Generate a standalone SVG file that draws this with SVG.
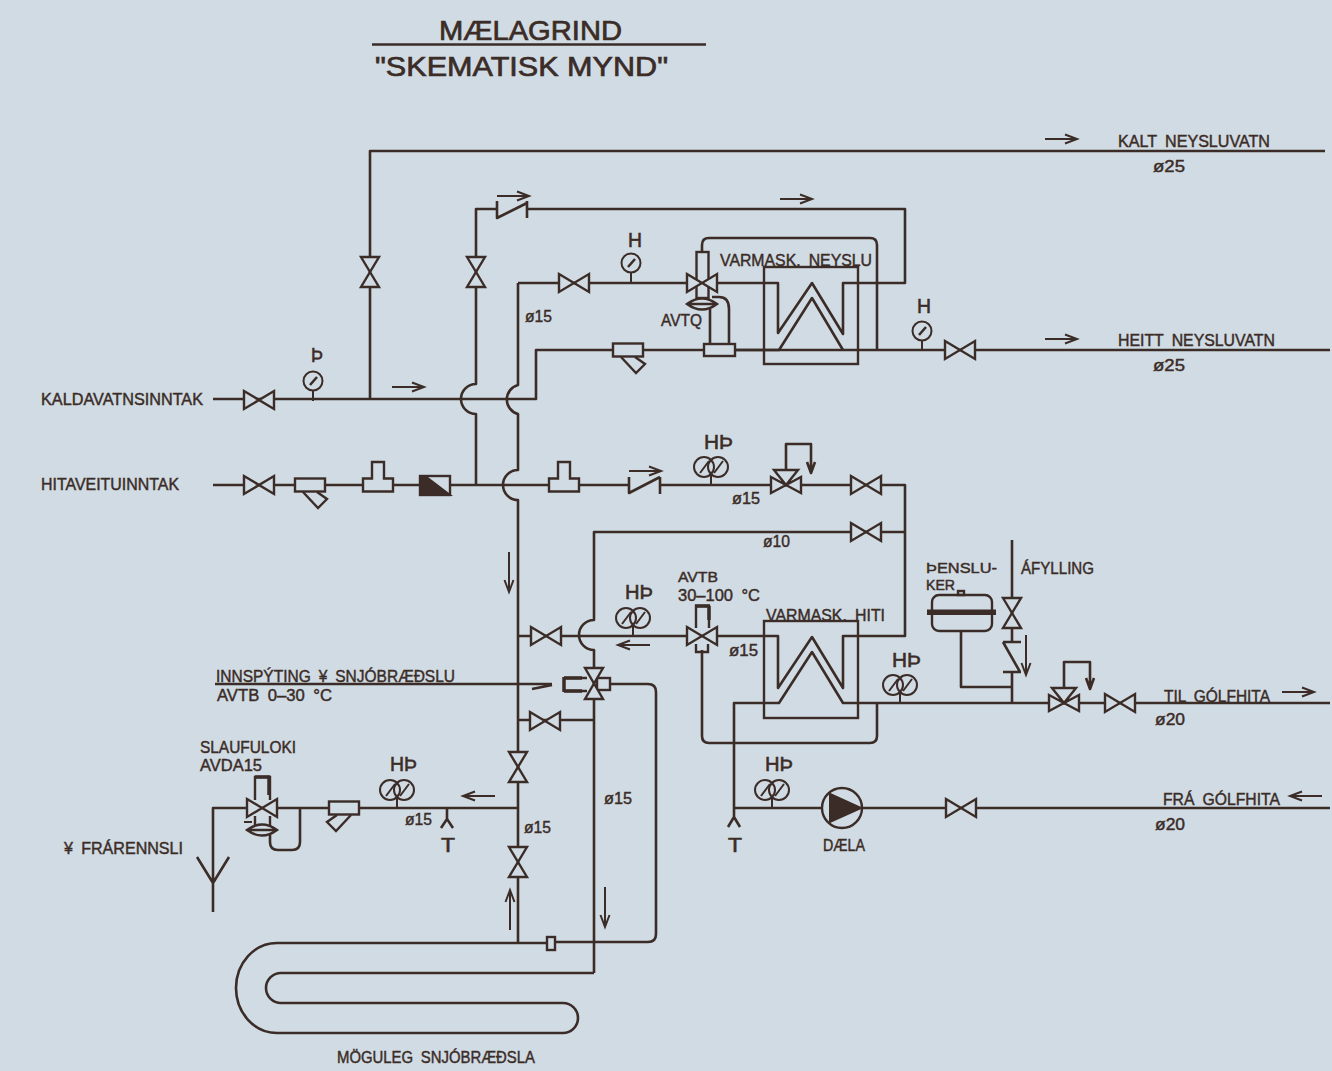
<svg xmlns="http://www.w3.org/2000/svg" width="1332" height="1071" viewBox="0 0 1332 1071">
<style>
.p{fill:none;stroke:#3b2c27;stroke-width:2.6;stroke-linejoin:round}
.s{fill:none;stroke:#3b2c27;stroke-width:2.4;stroke-linejoin:miter}
.f{fill:#d0dbe3;stroke:#3b2c27;stroke-width:2.4;stroke-linejoin:miter}
.h{fill:none;stroke:#3b2c27;stroke-width:3.5}
.a{fill:none;stroke:#3b2c27;stroke-width:2}
.k{fill:#3b2c27;stroke:#3b2c27;stroke-width:2}
text{font-family:"Liberation Sans",Arial,sans-serif;fill:#3b2c27;stroke:#3b2c27;stroke-width:.45;font-size:17px;word-spacing:4px}
.t{font-size:28px;stroke-width:.7;word-spacing:0}.m{font-size:21px;stroke-width:.6}.n{font-size:15px}
</style>
<defs>
<path id="vh" class="f" d="M-15,-9 L15,9 L15,-9 L-15,9Z"/>
<path id="vv" class="f" d="M-9,-15 L9,15 L-9,15 L9,-15Z"/>
<g id="g1"><circle class="a" cx="0" cy="0" r="9.500"/><path class="a" d="M0,9.500 V20"/><path class="h" style="stroke-width:2.500" d="M-3,4 L4,-4"/></g>
<g id="g2"><circle class="a" cx="-7" cy="0" r="10"/><circle class="a" cx="7" cy="0" r="10"/><path class="a" d="M-11,6 L-2,-6 M3,6 L12,-6 M0,8 V18"/></g>
<g id="st"><path class="s" d="M-7,7 L8,23 L17,14 L7,7"/><rect class="f" x="-15" y="-6.500" width="30" height="13"/></g>
<path id="tf" class="f" d="M-15,6.500 H15 V-6.500 H6 V-23 H-6 V-6.500 H-15Z"/>
<path id="w3" class="f" d="M-15,-8 L15,8 L15,-8 L-15,8Z M-12,-15 H12 L0,0Z"/>
<path id="ar" class="a" d="M-16,0 H16 M4,-4.500 L16,0 L4,4.500"/>
<path id="al" class="a" d="M16,0 H-16 M-4,-4.500 L-16,0 L-4,4.500"/>
<path id="ad" class="a" d="M0,-20 V20 M-4.500,8 L0,20 L4.500,8"/>
<path id="au" class="a" d="M0,20 V-20 M-4.500,-8 L0,-20 L4.500,-8"/>
<path id="di" class="f" d="M-15,0 Q0,-11 15,0 Q0,11 -15,0Z M-15,0 H15"/>
</defs>
<rect width="1332" height="1071" fill="#d0dbe3"/>
<g id="connectors">
<path class="p" d="M372,44.500 H706"/>
<path class="p" d="M370,399 V151 H1325"/>
<path class="p" d="M213,399 H536 V350 H1330"/>
<path class="p" d="M476,485 V414 A15,15 0 0 1 476,384 V209 H497 M527,209 H905 V283 H843 V334 L812,283 L778,333 V283 H702"/>
<path class="p" d="M518,283 H702"/>
<path class="p" d="M518,283 V385 A15,15 0 0 0 518,414 V470 A15,15 0 0 0 518,500 V943"/>
<path class="p" d="M213,485 H629 M660,485 H905 V636 H843 V688 L812,637 L778,688 V636 H518"/>
<path class="p" d="M905,532 H594 V620 A15,15 0 0 0 594,650 V973"/>
<path class="p" d="M518,720 H594"/>
<path class="p" d="M518,808 H213 V912 M197,857 L213,883 L229,857"/>
<path class="p" d="M702,283 V245 Q702,238 709,238 H870 Q877,238 877,245 V350"/>
<path class="p" d="M735,350 H779 L812,298 L843,350"/>
<path class="p" d="M710,305 V344 M712,297 H719 Q729,297 729,309 V344"/>
<path class="p" d="M734,808 V703 H779 L812,652 L843,703 H1330"/>
<path class="p" d="M702,650 V736 Q702,743 709,743 H870 Q877,743 877,736 V703"/>
<path class="p" d="M734,808 H1330"/>
<path class="p" d="M1012,540 V642 M1012,672 V703"/>
<path class="p" d="M961,631 V687 H1012"/>
<path class="p" d="M786,474 V444 H811 V472 M807,462 L811,473 L815,462"/>
<path class="p" d="M1064,690 V662 H1090 V688 M1086,678 L1090,689 L1094,678"/>
<path class="p" d="M610,684 H648 Q656,684 656,692 V934 Q656,942 648,942 H555"/>
<path class="p" d="M547,943 H277 A41,45 0 0 0 277,1033 H563 A15,15 0 0 0 563,1003 H281 A15,15 0 0 1 281,973 H594"/>
<path class="p" d="M215,684 H552 M532,689 L552,685"/>
<path class="p" d="M300,808 V842 Q300,850 292,850 H278 Q270,850 270,842 V825"/>
<path class="p" d="M447,808 V819 M441,828 L447,819 L453,828"/>
<path class="p" d="M734,808 V817 M728,827 L734,817 L740,827"/>
</g>
<g id="flow-arrows">
<use href="#ar" x="1061" y="139"/>
<use href="#ar" x="1061" y="339"/>
<use href="#ar" x="796" y="199"/>
<use href="#ar" x="513" y="196"/>
<use href="#ar" x="408" y="387"/>
<use href="#ar" x="645" y="471"/>
<use href="#ar" x="1298" y="692"/>
<use href="#al" x="634" y="645"/>
<use href="#al" x="479" y="796"/>
<use href="#al" x="1306" y="796"/>
<use href="#ad" x="509" y="572"/>
<use href="#ad" x="605" y="907"/>
<use href="#au" x="510" y="910"/>
<use href="#ad" x="1026" y="655"/>
</g>
<g id="valves">
<use href="#vv" x="370" y="272"/>
<use href="#vv" x="476" y="272"/>
<use href="#vh" x="574" y="283"/>
<use href="#vh" x="960" y="350"/>
<use href="#vh" x="259" y="400"/>
<use href="#vh" x="259" y="485"/>
<use href="#vh" x="866" y="485"/>
<use href="#vh" x="866" y="532"/>
<use href="#vh" x="546" y="636"/>
<use href="#vh" x="545" y="721"/>
<use href="#vv" x="518" y="767"/>
<use href="#vv" x="518" y="862"/>
<use href="#vv" x="1012" y="613"/>
<use href="#vh" x="1120" y="703"/>
<use href="#vh" x="961" y="808"/>
</g>
<g id="gauges">
<use href="#g1" x="631" y="263"/>
<use href="#g1" x="922" y="331"/>
<use href="#g1" x="313" y="381"/>
<use href="#g2" x="711" y="467"/>
<use href="#g2" x="633" y="618"/>
<use href="#g2" x="900" y="685"/>
<use href="#g2" x="397" y="790"/>
<use href="#g2" x="772" y="790"/>
</g>
<g id="strainers">
<use href="#st" x="310" y="485"/>
<use href="#st" x="628" y="350"/>
<g transform="translate(344,808) scale(-1,1)"><use href="#st"/></g>
</g>
<g id="fittings">
<use href="#tf" x="378" y="485"/>
<use href="#tf" x="564" y="485"/>
<rect class="f" x="704" y="344" width="31" height="12"/>
<rect class="f" x="547" y="937" width="8" height="13"/>
</g>
<g id="meter">
<rect class="f" x="420" y="476" width="30" height="19"/>
<path class="k" d="M420,476 H425 L450,495 H420Z"/>
</g>
<g id="check-valves">
<path class="p" d="M497,201 V218 L527,203 M527,201 V218"/>
<path class="p" d="M629,477 V493 L660,477 M660,477 V494"/>
<path class="p" d="M1003,642 H1021 M1003,642 L1020,672 M1003,672 H1021"/>
</g>
<g id="three-way-valves">
<use href="#w3" x="786" y="485"/>
<use href="#w3" x="1064" y="703"/>
</g>
<g id="avtq">
<rect class="f" x="696.500" y="252" width="12" height="46"/>
<path class="f" d="M687,274 L717,292 L717,274 L687,292Z"/>
<use href="#di" x="702" y="304"/>
</g>
<g id="avtb">
<path class="s" d="M696,628 V606 H709 V628 M696,644 V652 H708 V644"/>
<path class="h" d="M695,606 H710 M709,606 V620"/>
<path class="f" d="M687,627 L717,645 L717,627 L687,645Z"/>
</g>
<g id="slaufuloki">
<path class="s" d="M255,800 V777 H270 V800 M255,816 V826 M270,816 V826"/>
<path class="h" d="M255,777 H270 M269,777 V795"/>
<path class="f" d="M247,799 L277,817 L277,799 L247,817Z"/>
<use href="#di" x="262" y="830"/>
<path class="a" d="M244,822 H252"/>
</g>
<g id="snow-valve">
<rect class="f" x="597" y="678" width="13" height="12"/>
<path class="s" d="M564,678 H587 M564,691 H587"/>
<path class="h" d="M564,677 V692 M564,678 H582 M564,691 H582"/>
<path class="f" d="M585,668 H603 L585,699 H603Z"/>
</g>
<g id="exchanger-neyslu"><rect class="s" x="764" y="267" width="94" height="97"/></g>
<g id="exchanger-hiti"><rect class="s" x="764" y="621" width="94" height="97"/></g>
<g id="tank">
<rect class="s" x="932" y="595" width="60" height="36" rx="7"/>
<rect class="k" x="928" y="610.500" width="67" height="3.500"/>
<rect class="s" x="958" y="591" width="6" height="4"/>
</g>
<g id="pump">
<circle class="f" cx="842" cy="808" r="20"/>
<path class="k" d="M830,794 L861,808 L830,822Z"/>
</g>
<g id="labels">
<text class="t" x="439" y="40" textLength="183" lengthAdjust="spacingAndGlyphs">MÆLAGRIND</text>
<text class="t" x="375" y="76" textLength="293" lengthAdjust="spacingAndGlyphs">"SKEMATISK MYND"</text>
<text x="1118" y="147" textLength="152" lengthAdjust="spacingAndGlyphs">KALT NEYSLUVATN</text>
<text x="1153" y="172" textLength="32" lengthAdjust="spacingAndGlyphs">ø25</text>
<text x="1118" y="346" textLength="157" lengthAdjust="spacingAndGlyphs">HEITT NEYSLUVATN</text>
<text x="1153" y="371" textLength="32" lengthAdjust="spacingAndGlyphs">ø25</text>
<text class="m" x="628" y="247" textLength="14" lengthAdjust="spacingAndGlyphs">H</text>
<text class="m" x="917" y="313" textLength="14" lengthAdjust="spacingAndGlyphs">H</text>
<text x="720" y="266" textLength="152" lengthAdjust="spacingAndGlyphs">VARMASK. NEYSLU</text>
<text x="661" y="326" textLength="41" lengthAdjust="spacingAndGlyphs">AVTQ</text>
<text x="525" y="322" textLength="27" lengthAdjust="spacingAndGlyphs">ø15</text>
<text class="m" x="311" y="362" textLength="12" lengthAdjust="spacingAndGlyphs">Þ</text>
<text x="41" y="405" textLength="162" lengthAdjust="spacingAndGlyphs">KALDAVATNSINNTAK</text>
<text x="41" y="490" textLength="138" lengthAdjust="spacingAndGlyphs">HITAVEITUINNTAK</text>
<text class="m" x="704" y="449" textLength="29" lengthAdjust="spacingAndGlyphs">HÞ</text>
<text x="732" y="504" textLength="28" lengthAdjust="spacingAndGlyphs">ø15</text>
<text x="763" y="547" textLength="27" lengthAdjust="spacingAndGlyphs">ø10</text>
<text class="n" x="678" y="582" textLength="40" lengthAdjust="spacingAndGlyphs">AVTB</text>
<text x="678" y="601" textLength="82" lengthAdjust="spacingAndGlyphs">30–100 °C</text>
<text class="m" x="625" y="599" textLength="28" lengthAdjust="spacingAndGlyphs">HÞ</text>
<text x="766" y="621" textLength="119" lengthAdjust="spacingAndGlyphs">VARMASK. HITI</text>
<text x="729" y="656" textLength="29" lengthAdjust="spacingAndGlyphs">ø15</text>
<text class="n" x="926" y="573" textLength="71" lengthAdjust="spacingAndGlyphs">ÞENSLU-</text>
<text class="n" x="926" y="590" textLength="29" lengthAdjust="spacingAndGlyphs">KER</text>
<text x="1021" y="574" textLength="73" lengthAdjust="spacingAndGlyphs">ÁFYLLING</text>
<text class="m" x="892" y="667" textLength="29" lengthAdjust="spacingAndGlyphs">HÞ</text>
<text x="216" y="682" textLength="239" lengthAdjust="spacingAndGlyphs">INNSPÝTING ¥ SNJÓBRÆÐSLU</text>
<text x="217" y="701" textLength="115" lengthAdjust="spacingAndGlyphs">AVTB 0–30 °C</text>
<text x="1164" y="702" textLength="106" lengthAdjust="spacingAndGlyphs">TIL GÓLFHITA</text>
<text x="1155" y="725" textLength="30" lengthAdjust="spacingAndGlyphs">ø20</text>
<text x="200" y="753" textLength="96" lengthAdjust="spacingAndGlyphs">SLAUFULOKI</text>
<text x="200" y="771" textLength="62" lengthAdjust="spacingAndGlyphs">AVDA15</text>
<text class="m" x="390" y="771" textLength="27" lengthAdjust="spacingAndGlyphs">HÞ</text>
<text class="m" x="765" y="771" textLength="28" lengthAdjust="spacingAndGlyphs">HÞ</text>
<text x="604" y="804" textLength="28" lengthAdjust="spacingAndGlyphs">ø15</text>
<text x="1163" y="805" textLength="117" lengthAdjust="spacingAndGlyphs">FRÁ GÓLFHITA</text>
<text x="405" y="825" textLength="27" lengthAdjust="spacingAndGlyphs">ø15</text>
<text x="524" y="833" textLength="27" lengthAdjust="spacingAndGlyphs">ø15</text>
<text x="1155" y="830" textLength="30" lengthAdjust="spacingAndGlyphs">ø20</text>
<text class="m" x="441" y="852" textLength="14" lengthAdjust="spacingAndGlyphs">T</text>
<text class="m" x="728" y="852" textLength="14" lengthAdjust="spacingAndGlyphs">T</text>
<text x="823" y="851" textLength="42" lengthAdjust="spacingAndGlyphs">DÆLA</text>
<text x="64" y="854" textLength="119" lengthAdjust="spacingAndGlyphs">¥ FRÁRENNSLI</text>
<text x="337" y="1063" textLength="198" lengthAdjust="spacingAndGlyphs">MÖGULEG SNJÓBRÆÐSLA</text>
</g>
</svg>
